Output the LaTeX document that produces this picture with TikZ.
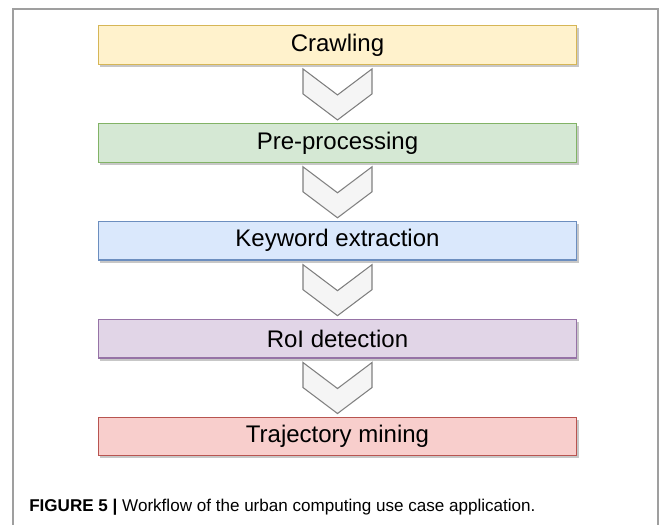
\documentclass[tikz,border=0pt]{standalone}
\usepackage{fontspec}
\setmainfont{Liberation Sans}
\usetikzlibrary{positioning,calc,shadows}

\definecolor{crawlfill}{HTML}{FFF2CC}\definecolor{crawlline}{HTML}{D6B656}
\definecolor{prepfill}{HTML}{D5E8D4}\definecolor{prepline}{HTML}{82B366}
\definecolor{kwfill}{HTML}{DAE8FC}\definecolor{kwline}{HTML}{6C8EBF}
\definecolor{roifill}{HTML}{E1D5E7}\definecolor{roiline}{HTML}{9673A6}
\definecolor{trajfill}{HTML}{F8CECC}\definecolor{trajline}{HTML}{B85450}
\definecolor{chevfill}{HTML}{F5F5F5}\definecolor{chevline}{HTML}{808080}

\tikzset{
  stage/.style={draw=#1line, fill=#1fill, line width=0.9pt,
    minimum width=359pt, minimum height=29pt, inner sep=0pt,
    font=\fontsize{18}{22}\selectfont,
    drop shadow={shadow xshift=1.5pt, shadow yshift=-2pt, fill=black, opacity=0.22}},
  chev/.style={draw=chevline, fill=chevfill, line width=0.8pt, line join=miter}
}

\begin{document}
\begin{tikzpicture}[x=0.75pt, y=0.75pt]
  \useasboundingbox (0,0) rectangle (665,525);
  % open frame round the figure
  \draw[gray!75, line width=0.9pt] (13,0) -- (13,516) -- (658,516) -- (658,0);

  % workflow stages
  \node[stage=crawl] (crawl) at (337.5,480) {Crawling};
  \node[stage=prep, below=43.5pt of crawl] (prep) {Pre-processing};
  \node[stage=kw, below=43.5pt of prep] (kwext) {Keyword extraction};
  \node[stage=roi, below=43.5pt of kwext] (roi) {RoI detection};
  \node[stage=traj, below=43.5pt of roi] (traj) {Trajectory mining};

  % chevrons between the stages
  \foreach \a/\b in {crawl/prep, prep/kwext, kwext/roi, roi/traj} {
    \coordinate (top) at ($(\a.south)+(0,-4)$);
    \coordinate (tip) at ($(\b.north)+(0,3)$);
    \draw[chev] ($(top)+(-34.5,0)$) -- ($(top)+(0,-26)$) -- ($(top)+(34.5,0)$)
      -- ($(tip)+(34.5,26)$) -- (tip) -- ($(tip)+(-34.5,26)$) -- cycle;
  }

  % caption
  \node[anchor=base west, inner sep=0pt, font=\fontsize{12.8}{15}\selectfont] (cap) at (29,13)
    {\textbf{FIGURE 5 |} Workflow of the urban computing use case application.};
\end{tikzpicture}
\end{document}
